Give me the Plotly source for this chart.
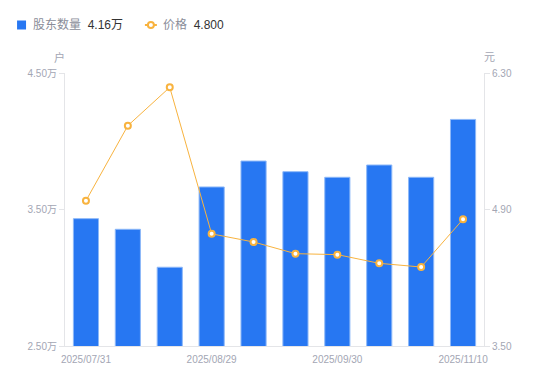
import plotly.graph_objects as go

dates = ["2025/07/31", "2025/08/10", "2025/08/20", "2025/08/29", "2025/09/10",
         "2025/09/19", "2025/09/30", "2025/10/20", "2025/10/31", "2025/11/10"]
holders = [3.433, 3.355, 3.077, 3.665, 3.855, 3.777, 3.736, 3.826, 3.736, 4.16]
price = [4.99, 5.76, 6.153, 4.65, 4.567, 4.447, 4.437, 4.348, 4.31, 4.80]
x_tick_labels = ["2025/07/31", "2025/08/29", "2025/09/30", "2025/11/10"]
left_ticks = [2.5, 3.5, 4.5]
left_tick_text = ["2.50万", "3.50万", "4.50万"]
right_ticks = [3.5, 4.9, 6.3]
right_tick_text = ["3.50", "4.90", "6.30"]

BLUE = "#2777f2"
ORANGE = "#f8b33f"
TICK_GRAY = "#a3a6b4"
AXIS_GRAY = "#e4e5e8"
FONT = "Liberation Sans, Noto Sans CJK SC, sans-serif"

OFF = 8  # page body margin offset
W, H = 550, 381
# target plot area in window pixels
X0, X1, Y0, Y1 = 65, 484.5, 73, 346
L = X0 - OFF
T = Y0 - OFF
R = W - (X1 - OFF)
B = H - (Y1 - OFF)
pw = X1 - X0
ph = Y1 - Y0


def px(x):
    return (x - X0) / pw


def py(y):
    return 1 - (y - Y0) / ph


fig = go.Figure()
fig.add_trace(go.Bar(
    x=dates, y=holders, name="股东数量",
    marker=dict(color=BLUE, line=dict(color="#8db8f8", width=1)),
    width=0.6, yaxis="y", showlegend=False,
))
fig.add_trace(go.Scatter(
    x=dates, y=price, name="价格", mode="lines+markers",
    line=dict(color=ORANGE, width=1),
    marker=dict(symbol="circle", size=6, color="white", line=dict(color=ORANGE, width=2)),
    yaxis="y2", showlegend=False,
))

fig.update_layout(
    width=W, height=H,
    margin=dict(l=L, r=R, t=T, b=B, pad=0),
    paper_bgcolor="white", plot_bgcolor="white",
    font=dict(family=FONT, size=10, color=TICK_GRAY),
    xaxis=dict(
        type="category", range=[-0.5, len(dates) - 0.5],
        tickmode="array", tickvals=x_tick_labels, ticktext=x_tick_labels,
        showgrid=False, showline=True, linecolor=AXIS_GRAY, linewidth=1,
        ticks="", ticklabelstandoff=4, tickfont=dict(size=10, color=TICK_GRAY), zeroline=False,
    ),
    yaxis=dict(
        range=[2.5, 4.5], tickvals=left_ticks, ticktext=left_tick_text,
        showgrid=False, showline=True, linecolor=AXIS_GRAY, linewidth=1,
        ticks="outside", ticklen=5, tickcolor=AXIS_GRAY,
        tickfont=dict(size=10, color=TICK_GRAY), zeroline=False,
    ),
    yaxis2=dict(
        range=[3.5, 6.3], tickvals=right_ticks, ticktext=right_tick_text,
        overlaying="y", side="right",
        showgrid=False, showline=True, linecolor=AXIS_GRAY, linewidth=1,
        ticks="outside", ticklen=5, tickcolor=AXIS_GRAY,
        tickfont=dict(size=10, color=TICK_GRAY), zeroline=False,
    ),
)

# axis unit titles
fig.add_annotation(text="户", x=px(59), y=py(57), xref="paper", yref="paper",
                   xanchor="center", yanchor="middle",
                   showarrow=False, font=dict(size=11, color=TICK_GRAY))
fig.add_annotation(text="元", x=px(490), y=py(57), xref="paper", yref="paper",
                   xanchor="center", yanchor="middle",
                   showarrow=False, font=dict(size=11, color=TICK_GRAY))

# custom legend
ly = 25
fig.add_shape(type="rect", xref="paper", yref="paper",
              x0=px(17), x1=px(26), y0=py(ly - 4.5), y1=py(ly + 4.5),
              fillcolor=BLUE, line=dict(width=0))
fig.add_annotation(
    text="股东数量  <span style='color:#333333'>%.2f万</span>" % holders[-1],
    x=px(31), y=py(ly), xref="paper", yref="paper", xanchor="left", yanchor="middle",
    showarrow=False, font=dict(size=12, color="#8a8d99"))
fig.add_shape(type="line", xref="paper", yref="paper",
              x0=px(145), x1=px(157), y0=py(ly), y1=py(ly),
              line=dict(color=ORANGE, width=2))
fig.add_shape(type="circle", xref="paper", yref="paper",
              x0=px(148), x1=px(154), y0=py(ly - 3), y1=py(ly + 3),
              fillcolor="white", line=dict(color=ORANGE, width=2))
fig.add_annotation(
    text="价格  <span style='color:#333333'>%.3f</span>" % price[-1],
    x=px(161), y=py(ly), xref="paper", yref="paper", xanchor="left", yanchor="middle",
    showarrow=False, font=dict(size=12, color="#8a8d99"))

fig.write_html("out.html")
